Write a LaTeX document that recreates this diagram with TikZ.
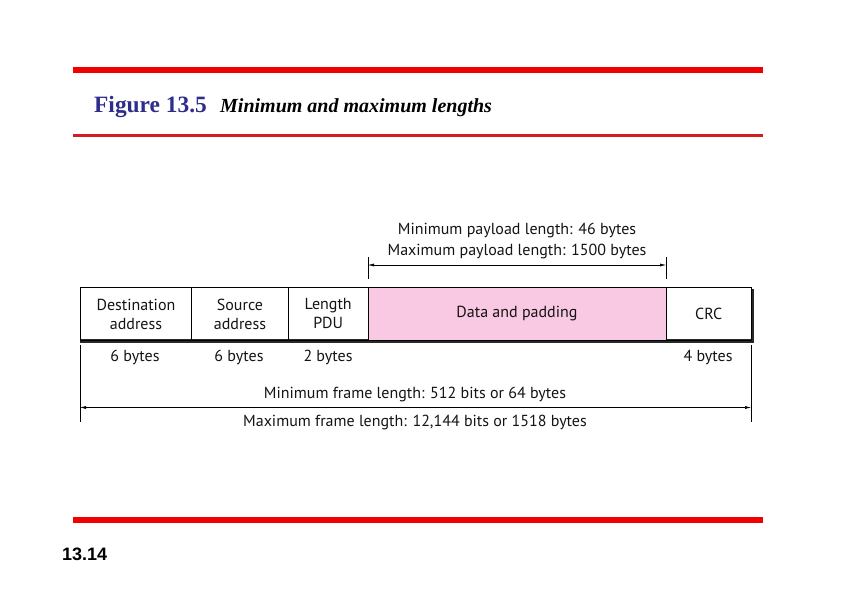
\documentclass[tikz,border=0pt]{standalone}
\usepackage{fontspec}
\setmainfont{Liberation Serif}
\newfontfamily\diag{PT Sans}
\newfontfamily\numfont{Liberation Sans}
\usetikzlibrary{arrows.meta}
\definecolor{barred}{RGB}{240,0,0}
\definecolor{linered}{RGB}{210,30,30}
\definecolor{figblue}{RGB}{45,45,140}
\definecolor{pinkfill}{RGB}{249,200,226}
\definecolor{shadow}{RGB}{40,40,40}
\tikzset{
  field/.style={draw=black, line width=0.9pt, minimum height=53pt, inner sep=0pt, align=center, font=\diag\fontsize{16}{19}\selectfont, text=black!92},
  lbl/.style={font=\diag\fontsize{16}{19}\selectfont, text=black!92, inner sep=0pt},
  dim/.style={line width=0.5pt, {Latex[length=6pt,width=3pt]}-{Latex[length=6pt,width=3pt]}},
  tick/.style={line width=0.6pt}
}
\begin{document}
\begin{tikzpicture}[x=1pt,y=-1pt]
\useasboundingbox (0,0) rectangle (842,596);
% bars
\fill[barred] (73,67) rectangle (763,73);
\fill[linered] (73,134) rectangle (763,137);
\fill[barred] (73,517) rectangle (763,523);
% title
\node[anchor=base west, inner sep=0pt, text=figblue, font=\bfseries\fontsize{23.4}{28}\selectfont] (fig) at (94,113) {Figure 13.5};
\node[anchor=base west, inner sep=0pt, font=\bfseries\itshape\fontsize{20}{24}\selectfont] (cap) at (220,113) {Minimum and maximum lengths};
\node[anchor=base west, inner sep=0pt, font=\numfont\bfseries\fontsize{18}{21}\selectfont] (pg) at (62,560) {13.14};
% shadow
\fill[shadow] (80,339) rectangle (754,343);
\fill[shadow] (751,289) rectangle (754,343);
% fields
\node[field, anchor=north west, minimum width=111pt] (dst) at (80,287) {Destination\\address};
\node[field, anchor=north west, minimum width=97pt] (src) at (191,287) {Source\\address};
\node[field, anchor=north west, minimum width=79.5pt] (len) at (288,287) {Length\\PDU};
\node[field, anchor=north west, minimum width=298pt, fill=pinkfill] (data) at (367.5,287) {Data and padding};
\node[field, anchor=north west, minimum width=85.5pt] (crc) at (665.5,287) {CRC};
% byte labels
\node[lbl, anchor=base] (b1) at (135,361.5) {6 bytes};
\node[lbl, anchor=base] (b2) at (239,361.5) {6 bytes};
\node[lbl, anchor=base] (b3) at (328,361.5) {2 bytes};
\node[lbl, anchor=base] (b4) at (708,361.5) {4 bytes};
% payload dimension
\coordinate (pl1) at (368,257);
\coordinate (pl2) at (368,279);
\coordinate (pr1) at (666,257);
\coordinate (pr2) at (666,279);
\coordinate (pa) at (368,265);
\coordinate (pb) at (666,265);
\draw[tick] (pl1) -- (pl2);
\draw[tick] (pr1) -- (pr2);
\draw[dim] (pa) -- (pb);
\node[lbl, anchor=base] (minp) at (517,234) {Minimum payload length: 46 bytes};
\node[lbl, anchor=base] (maxp) at (517,255) {Maximum payload length: 1500 bytes};
% frame dimension
\coordinate (fl1) at (80,345);
\coordinate (fl2) at (80,422);
\coordinate (fr1) at (751,345);
\coordinate (fr2) at (751,422);
\coordinate (fa) at (80,407.5);
\coordinate (fb) at (751,407.5);
\draw[tick] (fl1) -- (fl2);
\draw[tick] (fr1) -- (fr2);
\draw[dim] (fa) -- (fb);
\node[lbl, anchor=base] (minf) at (415,398) {Minimum frame length: 512 bits or 64 bytes};
\node[lbl, anchor=base] (maxf) at (415,426) {Maximum frame length: 12,144 bits or 1518 bytes};
\end{tikzpicture}
\end{document}
